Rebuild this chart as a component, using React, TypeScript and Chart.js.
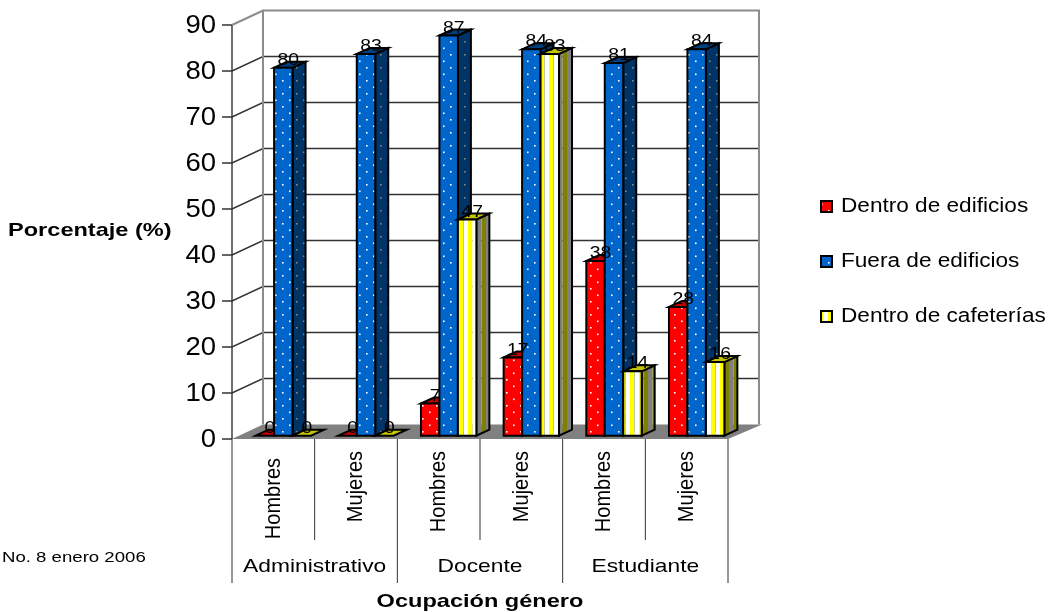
import React, { useEffect, useRef } from "react";
import { Chart, registerables } from "chart.js";

Chart.register(...registerables);

const FONT = "'Liberation Sans', Arial, sans-serif";

const genders = ["Hombres", "Mujeres", "Hombres", "Mujeres", "Hombres", "Mujeres"];
const occupations = ["Administrativo", "Docente", "Estudiante"];
const insideBuildings = [0, 0, 7, 17, 38, 28];
const outsideBuildings = [80, 83, 87, 84, 81, 84];
const insideCafeterias = [0, 0, 47, 83, 14, 16];
const seriesNames = ["Dentro de edificios", "Fuera de edificios", "Dentro de cafeterías"];
const yTitle = "Porcentaje (%)";
const xTitle = "Ocupación género";
const footnote = "No. 8 enero 2006";

// Projection of the box: how far the back wall and the bars are pushed.
const WALL_DX = 31;
const WALL_DY = -14.5;
const BAR_DX = 10;
const BAR_DY = -3.3;
const PRISM_DX = 13;
const PRISM_DY = -6;

function dotted(base: string, dot: string): CanvasPattern {
  const tile = document.createElement("canvas");
  tile.width = 14;
  tile.height = 13;
  const c = tile.getContext("2d")!;
  c.fillStyle = base;
  c.fillRect(0, 0, 14, 13);
  c.fillStyle = dot;
  c.fillRect(2, 2, 1.6, 1.6);
  c.fillRect(9, 8.5, 1.6, 1.6);
  return c.createPattern(tile, "repeat")!;
}

function striped(a: string, b: string): CanvasPattern {
  const tile = document.createElement("canvas");
  tile.width = 9;
  tile.height = 1;
  const c = tile.getContext("2d")!;
  c.fillStyle = a;
  c.fillRect(0, 0, 4.5, 1);
  c.fillStyle = b;
  c.fillRect(4.5, 0, 4.5, 1);
  return c.createPattern(tile, "repeat")!;
}

function poly(ctx: CanvasRenderingContext2D, pts: number[][], fill: any, stroke = true) {
  ctx.beginPath();
  pts.forEach((p, i) => (i ? ctx.lineTo(p[0], p[1]) : ctx.moveTo(p[0], p[1])));
  ctx.closePath();
  ctx.fillStyle = fill;
  ctx.fill();
  if (stroke) ctx.stroke();
}

// Text widened across its baseline direction, optionally turned to read upwards.
function wideText(
  ctx: CanvasRenderingContext2D,
  text: string,
  x: number,
  y: number,
  font: string,
  stretch: number,
  align: CanvasTextAlign,
  upright = false,
) {
  ctx.save();
  ctx.translate(x, y);
  if (upright) {
    ctx.rotate(-Math.PI / 2);
    ctx.scale(1, stretch);
  } else {
    ctx.scale(stretch, 1);
  }
  ctx.font = font;
  ctx.textAlign = align;
  ctx.textBaseline = "middle";
  ctx.fillStyle = "#000000";
  ctx.fillText(text, 0, 0);
  ctx.restore();
}

const box3d = {
  id: "box3d",
  beforeDatasetsDraw(chart: any) {
    const { ctx, scales, chartArea } = chart;
    const y = scales.y;
    const x = scales.x;
    const { left, right, top, bottom } = chartArea;
    ctx.save();

    // floor
    poly(ctx, [[left, bottom], [right, bottom], [right + WALL_DX + 3, bottom + WALL_DY], [left + WALL_DX, bottom + WALL_DY]], "#808080", false);

    // gridlines on the back wall and their run along the side wall
    ctx.lineWidth = 1.4;
    ctx.strokeStyle = "#333333";
    for (let v = 10; v <= 80; v += 10) {
      const py = y.getPixelForValue(v);
      ctx.beginPath();
      ctx.moveTo(left - 10, py);
      ctx.lineTo(left, py);
      ctx.lineTo(left + WALL_DX, py + WALL_DY);
      ctx.lineTo(right + WALL_DX, py + WALL_DY);
      ctx.stroke();
    }
    ctx.beginPath();
    ctx.moveTo(left - 10, top);
    ctx.lineTo(left, top);
    ctx.moveTo(left - 10, bottom);
    ctx.lineTo(left, bottom);
    ctx.moveTo(left, top);
    ctx.lineTo(left, bottom);
    ctx.stroke();

    // wall frame
    ctx.strokeStyle = "#8c8c8c";
    ctx.lineWidth = 2;
    ctx.beginPath();
    ctx.moveTo(left, top);
    ctx.lineTo(left + WALL_DX, top + WALL_DY);
    ctx.lineTo(right + WALL_DX, top + WALL_DY);
    ctx.lineTo(right + WALL_DX, bottom + WALL_DY);
    ctx.moveTo(left + WALL_DX, top + WALL_DY);
    ctx.lineTo(left + WALL_DX, bottom + WALL_DY);
    ctx.stroke();

    // two-level category dividers
    const step = x.getPixelForValue(1) - x.getPixelForValue(0);
    ctx.strokeStyle = "#333333";
    ctx.lineWidth = 1;
    for (let i = 0; i <= genders.length; i++) {
      const px = x.getPixelForValue(0) - step / 2 + i * step;
      ctx.beginPath();
      ctx.moveTo(px, bottom);
      ctx.lineTo(px, i % 2 === 0 ? 583 : 540);
      ctx.stroke();
    }

    // bars, painted series by series so later fronts cover earlier sides
    const faces = [
      { front: dotted("#ff0000", "#ffffff"), topFace: "#c00000", side: dotted("#800000", "#a08080") },
      { front: dotted("#0066cc", "#ffffff"), topFace: "#00407f", side: dotted("#003366", "#808890") },
      { front: striped("#ffff00", "#ffffff"), topFace: "#c4c400", side: striped("#808080", "#808000") },
    ];
    ctx.strokeStyle = "#000000";
    ctx.lineWidth = 2;
    ctx.lineJoin = "miter";
    chart.data.datasets.forEach((_: any, di: number) => {
      const meta = chart.getDatasetMeta(di);
      const f = faces[di];
      meta.data.forEach((bar: any) => {
        const x0 = bar.x - bar.width / 2 + BAR_DX;
        const x1 = bar.x + bar.width / 2 + BAR_DX;
        const y0 = bar.y + BAR_DY;
        const yb = bar.base + BAR_DY;
        const dx = PRISM_DX;
        const dy = PRISM_DY;
        if (yb - y0 > 0.5) {
          poly(ctx, [[x1, y0], [x1 + dx, y0 + dy], [x1 + dx, yb + dy], [x1, yb]], f.side);
        }
        poly(ctx, [[x0, y0], [x0 + dx, y0 + dy], [x1 + dx, y0 + dy], [x1, y0]], f.topFace);
        if (yb - y0 > 0.5) {
          poly(ctx, [[x0, y0], [x1, y0], [x1, yb], [x0, yb]], f.front);
        }
      });
    });

    // value labels
    chart.data.datasets.forEach((ds: any, di: number) => {
      chart.getDatasetMeta(di).data.forEach((bar: any, i: number) => {
        wideText(ctx, String(ds.data[i]), bar.x + BAR_DX + 5, bar.y + BAR_DY - 7.5, `17px ${FONT}`, 1.14, "center");
      });
    });

    // value axis numbers
    y.ticks.forEach((t: any) => {
      wideText(ctx, String(t.value), 216, y.getPixelForValue(t.value) + 1, `25px ${FONT}`, 1.1, "right");
    });

    // gender labels read upwards inside their band; the first one sits a little lower
    genders.forEach((name, i) => {
      wideText(ctx, name, x.getPixelForValue(i), i === 0 ? 458 : 451, `20px ${FONT}`, 1.14, "right", true);
    });

    // axis titles, group labels and the source note
    wideText(ctx, yTitle, 8, 231, `bold 19px ${FONT}`, 1.24, "left");
    wideText(ctx, footnote, 2, 558, `15.5px ${FONT}`, 1.2, "left");
    const x2 = scales.x2;
    occupations.forEach((name, i) => {
      wideText(ctx, name, x2.getPixelForValue(i), 567, `19px ${FONT}`, 1.2, "center");
    });
    wideText(ctx, xTitle, x2.getPixelForValue(1), 602, `bold 19px ${FONT}`, 1.24, "center");

    // legend
    seriesNames.forEach((name, i) => {
      const cy = 206 + i * 55;
      ctx.strokeStyle = "#000000";
      ctx.lineWidth = 2;
      poly(ctx, [[821, cy - 5], [832, cy - 5], [832, cy + 6], [821, cy + 6]], faces[i].front);
      wideText(ctx, name, 841, cy, `20px ${FONT}`, 1.13, "left");
    });
    ctx.restore();
  },
  beforeDatasetDraw() {
    // the prisms above replace the flat bars
    return false;
  },
};

export default function App() {
  const ref = useRef<HTMLCanvasElement>(null);
  useEffect(() => {
    const chart = new Chart(ref.current!, {
      type: "bar",
      data: {
        labels: genders,
        datasets: [
          { label: seriesNames[0], data: insideBuildings, backgroundColor: "#ff0000" },
          { label: seriesNames[1], data: outsideBuildings, backgroundColor: "#0066cc" },
          { label: seriesNames[2], data: insideCafeterias, backgroundColor: "#ffff00" },
        ],
      },
      plugins: [box3d],
      options: {
        animation: false,
        responsive: false,
        layout: { padding: { top: 25, right: 327, left: 0, bottom: 0 } },
        datasets: { bar: { categoryPercentage: 0.67, barPercentage: 1 } },
        plugins: { legend: { display: false }, title: { display: false }, tooltip: { enabled: false } },
        scales: {
          y: {
            min: 0,
            max: 90,
            grid: { display: false },
            border: { display: false },
            afterFit: (s: any) => { s.width = 232; },
            ticks: { stepSize: 10, display: false },
          },
          x: {
            grid: { display: false },
            border: { display: false },
            afterFit: (s: any) => { s.height = 106; },
            ticks: { autoSkip: false, display: false },
          },
          x2: {
            type: "category",
            labels: occupations,
            position: "bottom",
            grid: { display: false },
            border: { display: false },
            afterFit: (s: any) => { s.height = 67; },
            ticks: { display: false },
          },
        },
      },
    } as any);
    return () => chart.destroy();
  }, []);
  return (
    <div style={{ position: "fixed", left: 0, top: 0 }}>
      <canvas ref={ref} width={1055} height={612} style={{ display: "block" }} />
    </div>
  );
}
